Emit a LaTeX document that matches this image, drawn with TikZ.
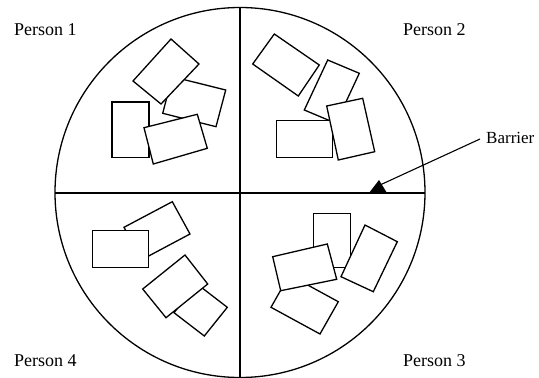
\documentclass[tikz,border=0pt]{standalone}
\usepackage{fontspec}
\setmainfont{Liberation Serif}
\begin{document}
\begin{tikzpicture}[x=1pt,y=-1pt,
  box/.style={draw=black,fill=white,line width=1.3pt,line join=miter},
  axis/.style={draw=black,line width=2.4pt},
  lbl/.style={font=\fontsize{18}{21}\selectfont,inner sep=0pt,anchor=base west}]
\useasboundingbox (0,0) rectangle (539,378);
% circle and barriers
\draw[line width=1.3pt] (240,192.5) circle (185);
\draw[axis] (55,193) -- (425,193);
\draw[axis] (240,8) -- (240,377);
% Person 1 quadrant
\draw[box] (172.3,76.7) -- (225.7,90) -- (216,126.7) -- (162.7,113.3) -- cycle;
\draw[box] (171,39) -- (199,64) -- (161,104) -- (133,81) -- cycle;
\draw[box] (112,102) rectangle (149,157.5);
\draw[box] (144,127.7) -- (197.3,114.3) -- (207.3,148.3) -- (153.3,164) -- cycle;
% Person 2 quadrant
\draw[box] (274.3,34) -- (319.3,65) -- (298.3,96) -- (252.7,64) -- cycle;
\draw[box] (327.7,60) -- (359.3,73.3) -- (336,123.3) -- (304.3,110) -- cycle;
\draw[box] (276.7,120.7) rectangle (332.7,157.3);
\draw[box] (326.7,106) -- (362.7,98.3) -- (374.7,151.7) -- (338.3,160) -- cycle;
% Person 4 quadrant
\draw[box] (124,227.3) -- (172.3,201.7) -- (190,234) -- (141.7,259.7) -- cycle;
\draw[box] (92.3,230.3) rectangle (148.7,267.3);
\draw[box] (197,284) -- (227.3,307.3) -- (204.3,336) -- (174,312.7) -- cycle;
\draw[box] (185,255) -- (207.7,284) -- (166,317.7) -- (142.7,289) -- cycle;
% Person 3 quadrant
\draw[box] (313.3,213.3) rectangle (350.3,267.3);
\draw[box] (289.3,275) -- (338.3,301.7) -- (320,334) -- (271,307.3) -- cycle;
\draw[box] (272.7,256.7) -- (327.3,244) -- (336.7,279.3) -- (280.7,290.7) -- cycle;
\draw[box] (365,225) -- (397.3,241.7) -- (373.3,291.7) -- (341,276.7) -- cycle;
% labels
\node[lbl] (p1) at (14,35) {Person 1};
\node[lbl] (p2) at (403,35) {Person 2};
\node[lbl] (p3) at (403,366) {Person 3};
\node[lbl] (p4) at (14,366) {Person 4};
\node[lbl,anchor=west,font=\fontsize{17}{20}\selectfont] (bar) at (486,138) {Barrier};
% barrier arrow
\coordinate (tip) at (380,185);
\fill (369,193) -- (379,180) -- (387,193) -- cycle;
\draw[line width=1.1pt] (bar.west) ++(-6,1) -- (tip);
\end{tikzpicture}
\end{document}
